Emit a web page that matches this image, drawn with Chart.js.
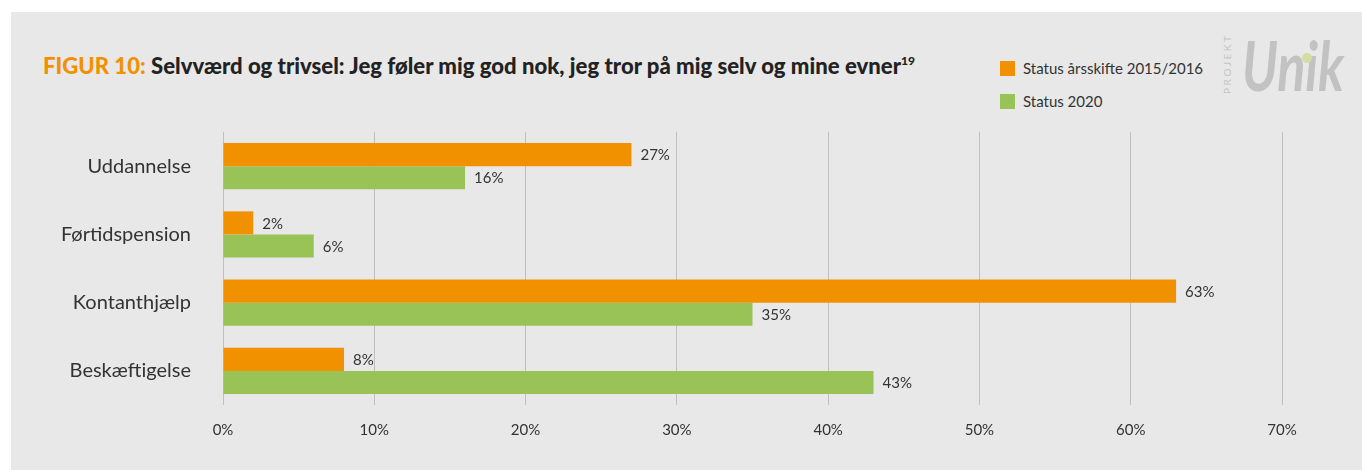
<!DOCTYPE html>
<html>
<head>
<meta charset="utf-8">
<script src="https://cdn.jsdelivr.net/npm/chart.js@4.4.1/dist/chart.umd.min.js"></script>
<style>
  html, body { margin: 0; padding: 0; background: #fff; }
  body { width: 1362px; height: 470px; position: relative; overflow: hidden; font-family: Lato, "Open Sans", sans-serif; }
  #panel { position: absolute; left: 11px; top: 12px; width: 1351px; height: 458px; background: #e8e8e8; }
  #title { position: absolute; left: 43px; top: 52px; font-size: 22px; font-weight: 900; color: #222; white-space: nowrap; transform-origin: left top; }
  #title .fig { color: #f29100; }
  #title sup { font-size: 12px; vertical-align: 9px; line-height: 0; }
  #legend { position: absolute; left: 1000px; top: 59px; font-size: 15px; color: #333; }
  #legend div { height: 33px; display: flex; align-items: flex-start; white-space: nowrap; }
  #legend span.box { display: inline-block; width: 15px; height: 15px; margin-right: 8px; margin-top: 2px; }
  #logo-small { position: absolute; left: 1221px; top: 94px; transform: rotate(-90deg); transform-origin: left top; font-size: 10px; letter-spacing: 2.6px; color: #c4c4c4; }
  #logo { position: absolute; left: 1242px; top: 24px; font-size: 68px; font-style: italic; font-weight: 700; color: #c2c2c2; white-space: nowrap; transform-origin: left top; }
  #dot { position: absolute; left: 1302px; top: 53px; width: 10px; height: 10px; border-radius: 50%; background: #d2dd9f; }
  #wrap { position: absolute; left: 11px; top: 12px; width: 1351px; height: 458px; }
</style>
</head>
<body>
<div id="panel"></div>
<div id="title"><span class="fig">FIGUR 10:</span> Selvværd og trivsel: Jeg føler mig god nok, jeg tror på mig selv og mine evner<sup>19</sup></div>
<div id="legend"></div>
<div id="logo-small">PROJEKT</div>
<div id="logo">Unik</div>
<div id="dot"></div>
<div id="wrap"><canvas id="chart" width="1351" height="458"></canvas></div>
<script>
// Data
const categories = ["Uddannelse", "Førtidspension", "Kontanthjælp", "Beskæftigelse"];
const seriesNames = ["Status årsskifte 2015/2016", "Status 2020"];
const status2016 = [27, 2, 63, 8];
const status2020 = [16, 6, 35, 43];
const tickValues = [0, 10, 20, 30, 40, 50, 60, 70];
const colors = ["#f29100", "#9ac357"];

// squeeze text to a given width
function fitWidth(el, w) {
  const r = el.getBoundingClientRect().width;
  el.style.transform = "scaleX(" + (w / r) + ")";
}
fitWidth(document.getElementById("title"), 872);
fitWidth(document.getElementById("logo"), 102);

// Legend (HTML)
const legend = document.getElementById("legend");
seriesNames.forEach((name, i) => {
  const row = document.createElement("div");
  row.innerHTML = '<span class="box" style="background:' + colors[i] + '"></span><span class="t">' + name + "</span>";
  legend.appendChild(row);
});

// Value labels to the right of the bars
const valueLabels = {
  id: "valueLabels",
  afterDatasetsDraw(chart) {
    const ctx = chart.ctx;
    ctx.save();
    ctx.font = "15px Lato, sans-serif";
    ctx.fillStyle = "#333";
    ctx.textBaseline = "middle";
    chart.data.datasets.forEach((ds, di) => {
      chart.getDatasetMeta(di).data.forEach((bar, i) => {
        ctx.fillText(ds.data[i] + "%", bar.x + 9, bar.y + 1);
      });
    });
    ctx.restore();
  },
};

const ctx = document.getElementById("chart").getContext("2d");
const chart = new Chart(ctx, {
  type: "bar",
  data: {
    labels: categories,
    datasets: [
      { label: seriesNames[0], data: status2016, backgroundColor: colors[0], barPercentage: 1, categoryPercentage: 0.674 },
      { label: seriesNames[1], data: status2020, backgroundColor: colors[1], barPercentage: 1, categoryPercentage: 0.674 },
    ],
  },
  options: {
    indexAxis: "y",
    responsive: false,
    animation: false,
    layout: { padding: { top: 120, right: 80, bottom: 0, left: 0 } },
    plugins: { legend: { display: false }, tooltip: { enabled: false } },
    scales: {
      x: {
        min: 0,
        max: 70,
        afterBuildTicks: (axis) => { axis.ticks = tickValues.map((v) => ({ value: v })); },
        afterFit: (axis) => { axis.height = 65; },
        grid: { color: "#bfbfbf", lineWidth: 1, drawTicks: false },
        border: { display: false },
        ticks: {
          padding: 16,
          color: "#333",
          font: { family: "Lato", size: 15 },
          callback: (v) => v + "%",
        },
      },
      y: {
        afterFit: (axis) => { axis.width = 212; },
        grid: { display: false, drawTicks: false },
        border: { display: false },
        ticks: { padding: 32, color: "#333", font: { family: "Lato", size: 20 } },
      },
    },
  },
  plugins: [valueLabels],
});
</script>
</body>
</html>
